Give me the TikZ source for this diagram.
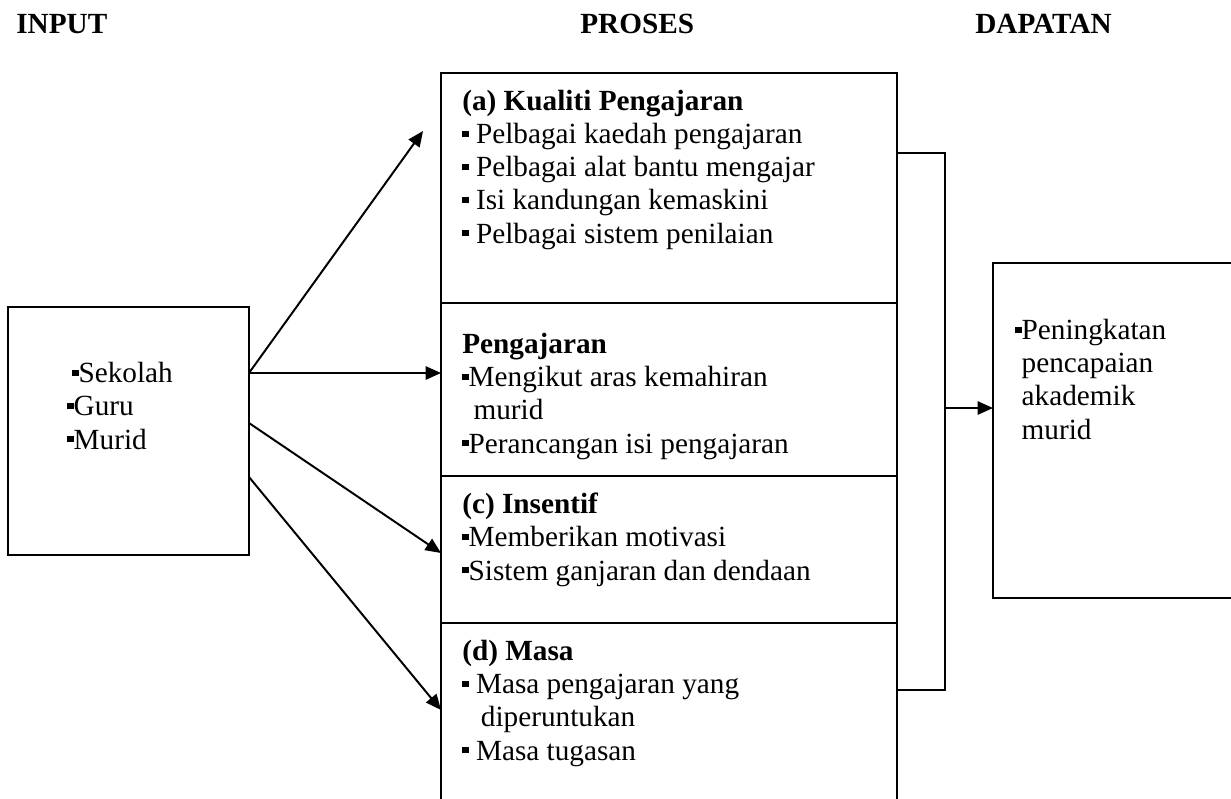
\documentclass[tikz,border=0pt]{standalone}
\usepackage{fontspec}
\setmainfont{Liberation Serif}
\usetikzlibrary{positioning,arrows.meta}
\newcommand{\puce}{\raisebox{0.5ex}{\rule{0.22em}{0.22em}}}

\begin{document}
\begin{tikzpicture}[x=0.025cm, y=-0.025cm, node distance=0pt]

    % Styles des noeuds
    \tikzstyle{boite} = [rectangle, draw=black, line width=1.4pt, inner sep=0pt, outer sep=0pt]
    \tikzstyle{texte} = [inner sep=0pt, anchor=base west, align=left, font=\fontsize{20.8}{23.5}\selectfont]
    \tikzstyle{titre} = [texte, font=\fontsize{20.8}{23.5}\selectfont\bfseries]
    \tikzstyle{arrow} = [line width=1.4pt, -{Triangle[length=11pt, width=9.5pt]}]
    \tikzstyle{lien} = [line width=1.4pt]

    \useasboundingbox (0,0) rectangle (1231,798);

    % Titres
    \node (tinput) [titre] at (16,33) {INPUT};
    \node (tproses) [titre] at (580,33) {PROSES};
    \node (tdapatan) [titre] at (975,33) {DAPATAN};

    % Noeuds
    \node (input) [boite, minimum width=6.025cm, minimum height=6.2cm] at (128.5,431) {};
    \node (qa) [boite, minimum width=11.4cm, minimum height=5.75cm, anchor=north west] at (441,73) {};
    \node (qb) [boite, minimum width=11.4cm, minimum height=4.325cm, below=of qa] {};
    \node (qc) [boite, minimum width=11.4cm, minimum height=3.675cm, below=of qb] {};
    \node (qd) [boite, minimum width=11.4cm, minimum height=5cm, below=of qc] {};
    \node (dapatan) [boite, minimum width=6.5cm, minimum height=8.375cm, anchor=north west] at (993,263) {};

    % Textes (ancre sur la derniere ligne)
    \node (tin) [texte] at (67,449) {\hspace{0.12cm}\puce Sekolah\\ \puce Guru\\ \puce Murid};
    \node (ta) [texte] at (462,243) {\textbf{(a) Kualiti Pengajaran}\\ \puce\ Pelbagai kaedah pengajaran\\ \puce\ Pelbagai alat bantu mengajar\\ \puce\ Isi kandungan kemaskini\\ \puce\ Pelbagai sistem penilaian};
    \node (tb) [texte] at (462,453) {\textbf{Pengajaran}\\ \puce Mengikut aras kemahiran\\ \hphantom{\puce}\,murid\\ \puce Perancangan isi pengajaran};
    \node (tc) [texte] at (462,580) {\textbf{(c) Insentif}\\ \puce Memberikan motivasi\\ \puce Sistem ganjaran dan dendaan};
    \node (td) [texte] at (462,760) {\textbf{(d) Masa}\\ \puce\ Masa pengajaran yang\\ \hphantom{\puce\ }\,diperuntukan\\ \puce\ Masa tugasan};
    \node (tdap) [texte] at (1015,439) {\puce Peningkatan\\ \hphantom{\puce}pencapaian\\ \hphantom{\puce}akademik\\ \hphantom{\puce}murid};

    % Flèches
    \coordinate (d1) at (249,373);
    \coordinate (d2) at (249,423);
    \coordinate (d3) at (249,477);
    \coordinate (f1) at (423,131);
    \coordinate (f3) at (441,553);
    \coordinate (f4) at (441,710);
    \draw [arrow] (d1) -- (f1);
    \draw [arrow] (d1) -- (d1 -| qb.west);
    \draw [arrow] (d2) -- (f3);
    \draw [arrow] (d3) -- (f4);

    \coordinate (ba) at (945,153);
    \coordinate (bd) at (945,690);
    \coordinate (bm) at (945,408);
    \draw [lien] (qa.east |- ba) -- (ba) -- (bd) -- (qd.east |- bd);
    \draw [arrow] (bm) -- (bm -| dapatan.west);

\end{tikzpicture}
\end{document}
